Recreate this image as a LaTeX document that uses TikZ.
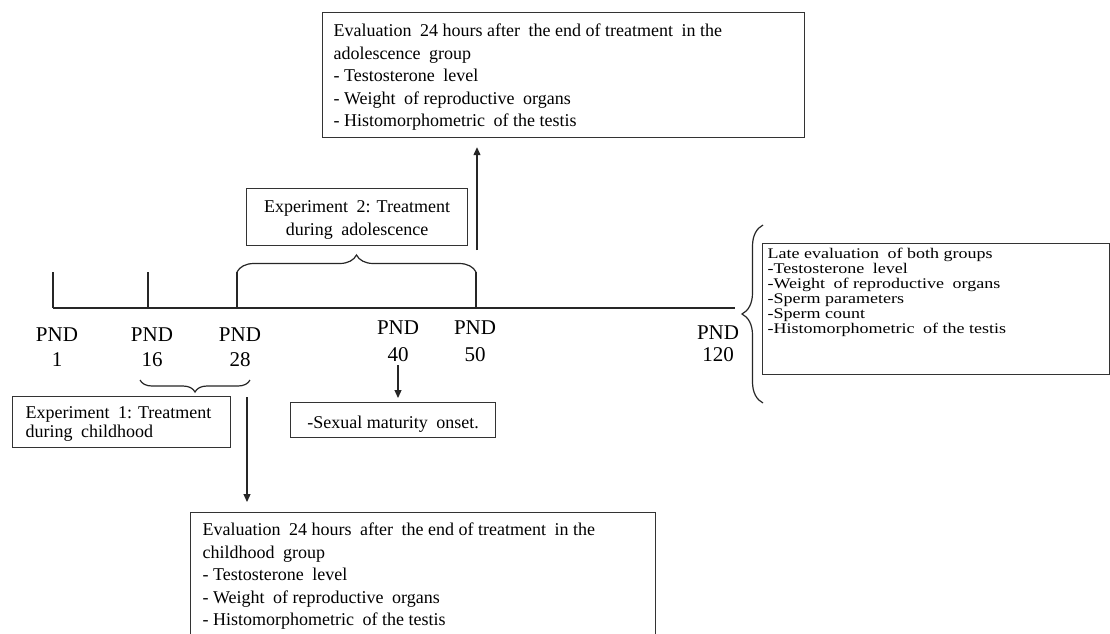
\documentclass[tikz,border=0pt]{standalone}
\usepackage{fontspec}
\usepackage{graphicx}
\setmainfont{Liberation Serif}
\usetikzlibrary{arrows.meta,decorations.pathreplacing}
\newcommand\gapx{\hspace{4pt}}
\newcommand\boxtext[4]{\parbox[b][#2][t]{#1}{\vspace*{#3}#4}}
\tikzset{
  ln/.style={line width=1.2pt, draw=black!85},
  boxnode/.style={draw=black!80, line width=1.2pt, anchor=north west, inner ysep=0pt},
  pnd/.style={font=\fontsize{21}{25}\selectfont, align=center, inner sep=0pt},
  arr/.style={ln, -{Triangle[length=8pt,width=7pt]}},
  brc/.style={ln, decorate, decoration={brace, amplitude=#1}},
  brcm/.style={ln, decorate, decoration={brace, mirror, amplitude=#1}},
}
\begin{document}
\begin{tikzpicture}[x=1pt,y=-1pt]
\useasboundingbox[fill=white] (0,0) rectangle (1110,633);

% timeline
\coordinate (t0) at (53,308);
\coordinate (t1) at (735,308);
\draw[ln] (t0) -- (t1);
\draw[ln] (53,272) -- (53,308);
\draw[ln] (148,272) -- (148,308);
\draw[ln] (237,272) -- (237,308);
\draw[ln] (476,272) -- (476,308);

% braces
\draw[brc=17pt] (237,272) -- (476,272);
\draw[brcm=12pt] (140,380) -- (250,380);
\draw[brc=21pt] (763,403) -- (763,225);

% PND labels
\node[pnd] (p1) at (57,347.5) {PND\\1};
\node[pnd] (p16) at (152,347.5) {PND\\16};
\node[pnd] (p28) at (240,347.5) {PND\\28};
\node[pnd] (p40) at (398,341.5) {PND\\[2pt]40};
\node[pnd] (p50) at (475,341.5) {PND\\[2pt]50};
\node[pnd] (p120) at (718,344) {PND\\[-3pt]120};

% boxes
\node[boxnode, inner xsep=11pt] (topbox) at (322,12) {\boxtext{460pt}{125pt}{11.7pt}{\fontsize{18}{22.5}\selectfont\raggedright
Evaluation\gapx{} 24 hours after\gapx{} the end of treatment\gapx{} in the\\
adolescence\gapx{} group\\
- Testosterone\gapx{} level\\
- Weight\gapx{} of reproductive\gapx{} organs\\
- Histomorphometric\gapx{} of the testis}};

\node[boxnode, inner xsep=5pt] (exp2) at (246,188) {\boxtext{211pt}{57pt}{11.7pt}{\fontsize{18}{23}\selectfont\centering
Experiment\gapx{} 2: Treatment\\
during\gapx{} adolescence}};

\node[boxnode, inner xsep=13pt] (exp1) at (12,396) {\boxtext{192pt}{51pt}{9.7pt}{\fontsize{18}{19}\selectfont\raggedright
Experiment\gapx{} 1: Treatment\\
during\gapx{} childhood}};

\node[boxnode, inner xsep=5pt] (sexbox) at (290,402) {\boxtext{195pt}{35pt}{13.7pt}{\fontsize{18}{19}\selectfont\centering
-Sexual maturity\gapx{} onset.}};

\node[boxnode, inner xsep=5pt] (late) at (762,243) {\boxtext{337pt}{131pt}{4.8pt}{\scalebox{1}[0.82]{\parbox[t]{337pt}{\fontsize{18}{18.3}\selectfont\raggedright
Late evaluation\gapx{} of both groups\\
-Testosterone\gapx{} level\\
-Weight\gapx{} of reproductive\gapx{} organs\\
-Sperm parameters\\
-Sperm count\\
-Histomorphometric\gapx{} of the testis}}}};

\node[boxnode, inner xsep=12pt] (botbox) at (190,512) {\boxtext{441pt}{124pt}{10.7pt}{\fontsize{18}{22.5}\selectfont\raggedright
Evaluation\gapx{} 24 hours\gapx{} after\gapx{} the end of treatment\gapx{} in the\\
childhood\gapx{} group\\
- Testosterone\gapx{} level\\
- Weight\gapx{} of reproductive\gapx{} organs\\
- Histomorphometric\gapx{} of the testis}};

% arrows
\coordinate (a50) at (477,250);
\draw[arr, shorten >=9pt] (a50) -- (a50 |- topbox.south);
\coordinate (a28) at (247,397);
\draw[arr, shorten >=10pt] (a28) -- (a28 |- botbox.north);
\coordinate (a40) at (398,365);
\draw[arr, shorten >=4pt] (a40) -- (a40 |- sexbox.north);
\end{tikzpicture}
\end{document}
